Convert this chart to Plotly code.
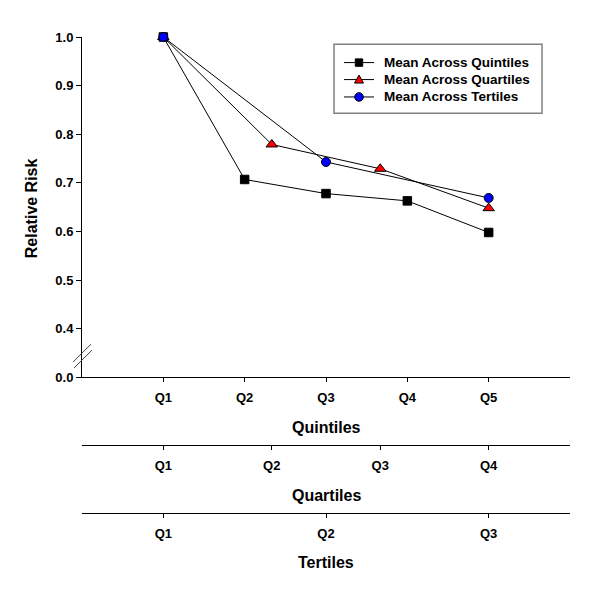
import plotly.graph_objects as go

# ---- data ----
quintile_labels = ["Q1", "Q2", "Q3", "Q4", "Q5"]
quintile_rr = [1.0, 0.707, 0.678, 0.663, 0.598]
quartile_labels = ["Q1", "Q2", "Q3", "Q4"]
quartile_rr = [1.0, 0.779, 0.729, 0.648]
tertile_labels = ["Q1", "Q2", "Q3"]
tertile_rr = [1.0, 0.743, 0.669]

series_names = ["Mean Across Quintiles", "Mean Across Quartiles", "Mean Across Tertiles"]
series_colors = ["black", "red", "blue"]

y_tickvals = [0.3, 0.4, 0.5, 0.6, 0.7, 0.8, 0.9, 1.0]
y_ticktext = ["0.0", "0.4", "0.5", "0.6", "0.7", "0.8", "0.9", "1.0"]

FONT = "Liberation Sans, Arial, sans-serif"
OFF = 8  # default page body margin
W, H = 600 - 2 * OFF, 589 - 2 * OFF
# screen coordinates of plot area
SX0, SX1 = 82, 570
STOP, SBOT = 36.7, 513.0
L = SX0 - OFF
R = W - (SX1 - OFF)
T = STOP - OFF
B = H - (SBOT - OFF)
pw = SX1 - SX0
ph = SBOT - STOP
y_dom0 = (SBOT - 377.3) / ph
quart_pos = (SBOT - 445.0) / ph


def px_x(px):
    return (px - SX0) / pw


def px_y(py):
    return (SBOT - py) / ph


fig = go.Figure()
fig.add_trace(go.Scatter(
    x=list(range(1, 6)), y=quintile_rr, xaxis="x", yaxis="y",
    mode="lines+markers", name=series_names[0],
    line=dict(color="black", width=1),
    marker=dict(symbol="square", size=8.5, color=series_colors[0], line=dict(color="black", width=1)),
    cliponaxis=False))
fig.add_trace(go.Scatter(
    x=list(range(1, 5)), y=quartile_rr, xaxis="x2", yaxis="y",
    mode="lines+markers", name=series_names[1],
    line=dict(color="black", width=1),
    marker=dict(symbol="triangle-up", size=10, color=series_colors[1], line=dict(color="black", width=1)),
    cliponaxis=False))
fig.add_trace(go.Scatter(
    x=list(range(1, 4)), y=tertile_rr, xaxis="x3", yaxis="y",
    mode="lines+markers", name=series_names[2],
    line=dict(color="black", width=1),
    marker=dict(symbol="circle", size=9, color=series_colors[2], line=dict(color="black", width=1)),
    cliponaxis=False))

tickfont = dict(family=FONT, size=13, color="black", weight="bold")
common_x = dict(showline=True, linecolor="black", linewidth=1, ticks="outside",
                ticklen=4, tickcolor="black", showgrid=False, zeroline=False,
                tickfont=tickfont, fixedrange=True, ticklabelstandoff=4)

fig.update_layout(
    width=W, height=H,
    margin=dict(l=L, r=R, t=T, b=B, pad=0),
    paper_bgcolor="white", plot_bgcolor="white",
    showlegend=False,
    xaxis=dict(range=[0, 6], tickvals=list(range(1, 6)), ticktext=quintile_labels,
               anchor="y", **common_x),
    xaxis2=dict(range=[0.25, 4.75], tickvals=list(range(1, 5)), ticktext=quartile_labels,
                overlaying="x", anchor="free", position=quart_pos, **common_x),
    xaxis3=dict(range=[0.5, 3.5], tickvals=list(range(1, 4)), ticktext=tertile_labels,
                overlaying="x", anchor="free", position=0, **common_x),
    yaxis=dict(domain=[y_dom0, 1], range=[0.3, 1.0], tickvals=y_tickvals, ticktext=y_ticktext,
               showline=True, linecolor="black", linewidth=1, ticks="outside", ticklen=5,
               tickcolor="black", showgrid=False, zeroline=False, tickfont=tickfont,
               fixedrange=True),
)

# axis break marks
for (x0, y0, x1, y1) in [(73, 362, 91, 344), (74, 368, 92, 350)]:
    fig.add_shape(type="line", xref="paper", yref="paper",
                  x0=px_x(x0), y0=px_y(y0), x1=px_x(x1), y1=px_y(y1),
                  line=dict(color="#404040", width=1))

# ---- legend (drawn) ----
fig.add_shape(type="rect", xref="paper", yref="paper",
              x0=px_x(334), y0=px_y(113), x1=px_x(542), y1=px_y(44),
              line=dict(color="#808080", width=1.5), fillcolor="white", layer="above")
legfont = dict(family=FONT, size=13.5, color="black", weight="bold")
rows_y = [62.3, 79.3, 96.7]
for i, (name, col) in enumerate(zip(series_names, series_colors)):
    yy = rows_y[i]
    fig.add_shape(type="line", xref="paper", yref="paper",
                  x0=px_x(344), x1=px_x(374), y0=px_y(yy), y1=px_y(yy),
                  line=dict(color="black", width=1), layer="above")
    cx = 359
    if i == 0:
        fig.add_shape(type="rect", xref="paper", yref="paper",
                      x0=px_x(cx - 3.7), x1=px_x(cx + 3.7), y0=px_y(yy + 3.7), y1=px_y(yy - 3.7),
                      line=dict(color="black", width=1), fillcolor=col, layer="above")
    elif i == 1:
        path = "M {} {} L {} {} L {} {} Z".format(
            px_x(cx - 4.5), px_y(yy + 3.5), px_x(cx + 4.5), px_y(yy + 3.5), px_x(cx), px_y(yy - 4.5))
        fig.add_shape(type="path", xref="paper", yref="paper", path=path,
                      line=dict(color="black", width=1), fillcolor=col, layer="above")
    else:
        fig.add_shape(type="circle", xref="paper", yref="paper",
                      x0=px_x(cx - 4.3), x1=px_x(cx + 4.3), y0=px_y(yy + 4.3), y1=px_y(yy - 4.3),
                      line=dict(color="black", width=1), fillcolor=col, layer="above")
    fig.add_annotation(text=name, xref="paper", yref="paper", x=px_x(382), y=px_y(yy),
                       showarrow=False, font=legfont, xanchor="left", yanchor="middle")

titlefont = dict(family=FONT, size=16, color="black", weight="bold")
for txt, py in [("Quintiles", 427), ("Quartiles", 495), ("Tertiles", 563)]:
    fig.add_annotation(text=txt, xref="paper", yref="paper", x=px_x(326), y=px_y(py),
                       showarrow=False, font=titlefont, xanchor="center", yanchor="middle")
fig.add_annotation(text="Relative Risk", xref="paper", yref="paper", x=px_x(31), y=px_y(208),
                   showarrow=False, font=titlefont, textangle=-90,
                   xanchor="center", yanchor="middle")

fig.write_html("out.html")
